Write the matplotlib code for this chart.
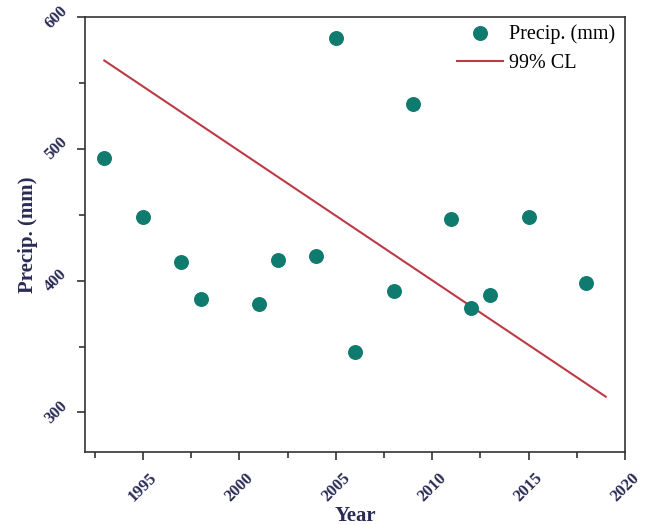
import matplotlib
matplotlib.use("Agg")
import matplotlib.pyplot as plt
from matplotlib.ticker import MultipleLocator

years = [1993, 1995, 1997, 1998, 2001, 2002, 2004, 2005, 2006, 2008, 2009, 2011, 2012, 2013, 2015, 2018]
precip = [493, 448, 414, 386, 382, 416, 419, 584, 346, 392, 534, 447, 379, 389, 448, 398]
cl_years = [1993, 2019]
cl_values = [567, 312]
x_ticks = [1995, 2000, 2005, 2010, 2015, 2020]
y_ticks = [300, 400, 500, 600]

plt.rcParams['font.family'] = ['Liberation Serif', 'DejaVu Serif']
navy = '#2a2b55'

fig = plt.figure(figsize=(6.46, 5.25), dpi=100)
ax = fig.add_axes([0.1316, 0.139, 0.8359, 0.8286])

ax.scatter(years, precip, s=95, color='#0f7a6e', label='Precip. (mm)', zorder=3)
ax.plot(cl_years, cl_values, color='#bb3a46', lw=1.5, label='99% CL', zorder=2)

ax.set_xlim(1992.0, 2020.0)
ax.set_ylim(270, 600)
ax.set_xticks(x_ticks)
ax.set_yticks(y_ticks)
ax.xaxis.set_minor_locator(MultipleLocator(2.5))
ax.yaxis.set_minor_locator(MultipleLocator(50))
ax.tick_params(which='major', direction='out', length=6, width=1.2, color='#333333')
ax.tick_params(which='minor', direction='out', length=4, width=1.2, color='#333333')
ax.tick_params(axis='x', which='major', pad=7)
ax.tick_params(axis='y', which='major', pad=4.5)
for lbl in ax.get_xticklabels():
    lbl.set_rotation(45)
    lbl.set_ha('center')
    lbl.set_va('top')
    lbl.set_fontweight('bold')
    lbl.set_color(navy)
    lbl.set_fontsize(12)
for lbl in ax.get_yticklabels():
    lbl.set_rotation(45)
    lbl.set_ha('right')
    lbl.set_va('center')
    lbl.set_fontweight('bold')
    lbl.set_color(navy)
    lbl.set_fontsize(12)

for sp in ax.spines.values():
    sp.set_linewidth(1.2)
    sp.set_color('#333333')

ax.set_xlabel('Year', fontsize=15, fontweight='bold', color=navy, labelpad=1)
ax.set_ylabel('Precip. (mm)', fontsize=15, fontweight='bold', color=navy, labelpad=2.5)

leg = ax.legend(loc='upper right', bbox_to_anchor=(615 / 646, 1 - 24 / 525),
                bbox_transform=fig.transFigure, fontsize=14.5, frameon=False,
                handlelength=2.3, borderaxespad=0, borderpad=0,
                handletextpad=0.3, labelspacing=0.5)

fig.savefig('out.png', dpi=100)
